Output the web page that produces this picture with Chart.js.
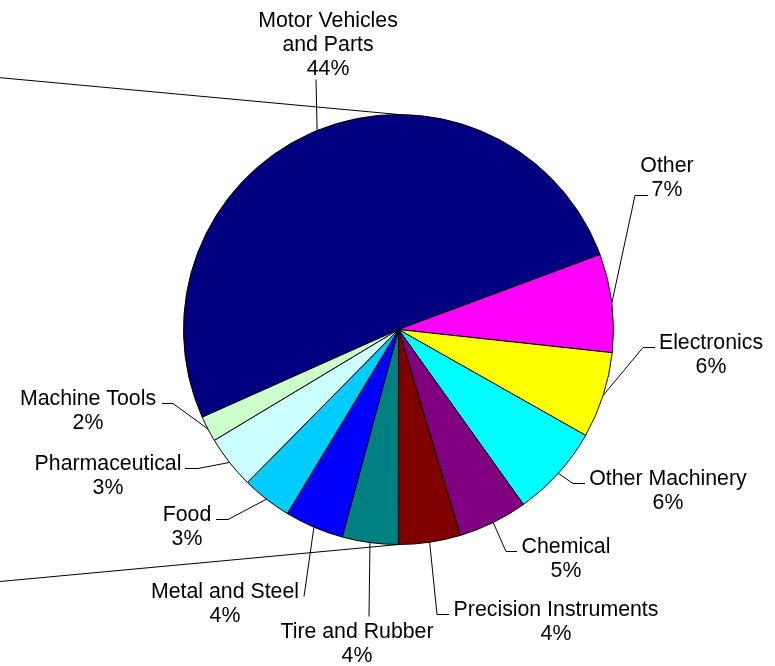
<!DOCTYPE html>
<html>
<head>
<meta charset="utf-8">
<script src="https://cdn.jsdelivr.net/npm/chart.js@4/dist/chart.umd.min.js"></script>
<style>
  html, body { margin: 0; padding: 0; background: #fff; }
  #wrap { width: 775px; height: 666px; position: relative; }
</style>
</head>
<body>
<div id="wrap"><canvas id="c" width="775" height="666"></canvas></div>
<script>
// ---- data ----
const categories = ['Motor Vehicles and Parts', 'Other', 'Electronics', 'Other Machinery', 'Chemical',
  'Precision Instruments', 'Tire and Rubber', 'Metal and Steel', 'Food', 'Pharmaceutical', 'Machine Tools'];
const values = [44.9, 6.5, 5.7, 6.1, 4.6, 4.1, 3.7, 3.9, 3.3, 3.5, 1.7];
const percentLabels = ['44%', '7%', '6%', '6%', '5%', '4%', '4%', '4%', '3%', '3%', '2%'];
const labelLines = [['Motor Vehicles', 'and Parts'], ['Other'], ['Electronics'], ['Other Machinery'], ['Chemical'],
  ['Precision Instruments'], ['Tire and Rubber'], ['Metal and Steel'], ['Food'], ['Pharmaceutical'], ['Machine Tools']];

// ---- styles / positions (kept apart from data) ----
const colors = ['#000080', '#FF00FF', '#FFFF00', '#00FFFF', '#800080', '#800000', '#008080', '#0000FF', '#00CCFF', '#CCFFFF', '#CCFFCC'];
const otherStartDeg = 69.6; // angle (clockwise from top) where the "Other" slice begins
// label block centre x, and first-line centre y
const labelPos = [[328, 19], [667, 164], [711, 341], [668, 477], [566, 545], [556, 608], [357, 630], [225, 590], [187, 513], [108, 462], [88, 397]];
// leader polylines from label toward pie (pie edge point appended automatically)
const leaderPts = [
  [[316, 79]],
  [[648, 195], [635, 195]],
  [[655, 347], [643, 347]],
  [[585, 483], [573, 483]],
  [[517, 551], [506, 551]],
  [[449, 614], [437, 614]],
  [[369, 616]],
  [[304, 596]],
  [[216, 519], [228, 519]],
  [[185, 468], [198, 468]],
  [[162, 403], [173, 403]]
];
const FONT = '21.3px "Liberation Sans", Arial, sans-serif';
const LINE_H = 24.3;

const total = values.reduce((a, b) => a + b, 0);
const rotation = otherStartDeg - 360 * values[0] / total;

const labelPlugin = {
  id: 'pieLabels',
  afterDraw(chart) {
    const ctx = chart.ctx;
    const arcs = chart.getDatasetMeta(0).data;
    ctx.save();
    ctx.strokeStyle = '#000';
    ctx.lineWidth = 1;
    // connector lines from pie top/bottom toward the left (bar-of-pie style)
    const a0 = arcs[0];
    const cx = a0.x, cy = a0.y, r = a0.outerRadius;
    ctx.beginPath();
    ctx.moveTo(cx, cy - r);
    ctx.lineTo(0, 77.7);
    ctx.moveTo(cx, cy + r);
    ctx.lineTo(0, 581.5);
    ctx.stroke();
    // leader lines
    arcs.forEach((arc, i) => {
      const mid = (arc.startAngle + arc.endAngle) / 2;
      const ex = arc.x + arc.outerRadius * Math.cos(mid);
      const ey = arc.y + arc.outerRadius * Math.sin(mid);
      const pts = leaderPts[i];
      ctx.beginPath();
      ctx.moveTo(pts[0][0], pts[0][1] + 0.5);
      for (let k = 1; k < pts.length; k++) ctx.lineTo(pts[k][0], pts[k][1] + 0.5);
      ctx.lineTo(ex, ey);
      ctx.stroke();
    });
    // texts
    ctx.fillStyle = '#000';
    ctx.font = FONT;
    ctx.textAlign = 'center';
    ctx.textBaseline = 'alphabetic';
    categories.forEach((c, i) => {
      const lines = labelLines[i].concat([percentLabels[i]]);
      const [x, y0] = labelPos[i];
      lines.forEach((t, k) => ctx.fillText(t, x, y0 + k * LINE_H + 7.5));
    });
    ctx.restore();
  }
};

new Chart(document.getElementById('c'), {
  type: 'pie',
  data: {
    labels: categories,
    datasets: [{
      data: values,
      backgroundColor: colors,
      borderColor: '#000',
      borderWidth: 1
    }]
  },
  options: {
    responsive: false,
    animation: false,
    rotation: rotation,
    layout: { padding: { left: 183, right: 161, top: 114, bottom: 121 } },
    plugins: { legend: { display: false }, tooltip: { enabled: false } }
  },
  plugins: [labelPlugin]
});
</script>
</body>
</html>
